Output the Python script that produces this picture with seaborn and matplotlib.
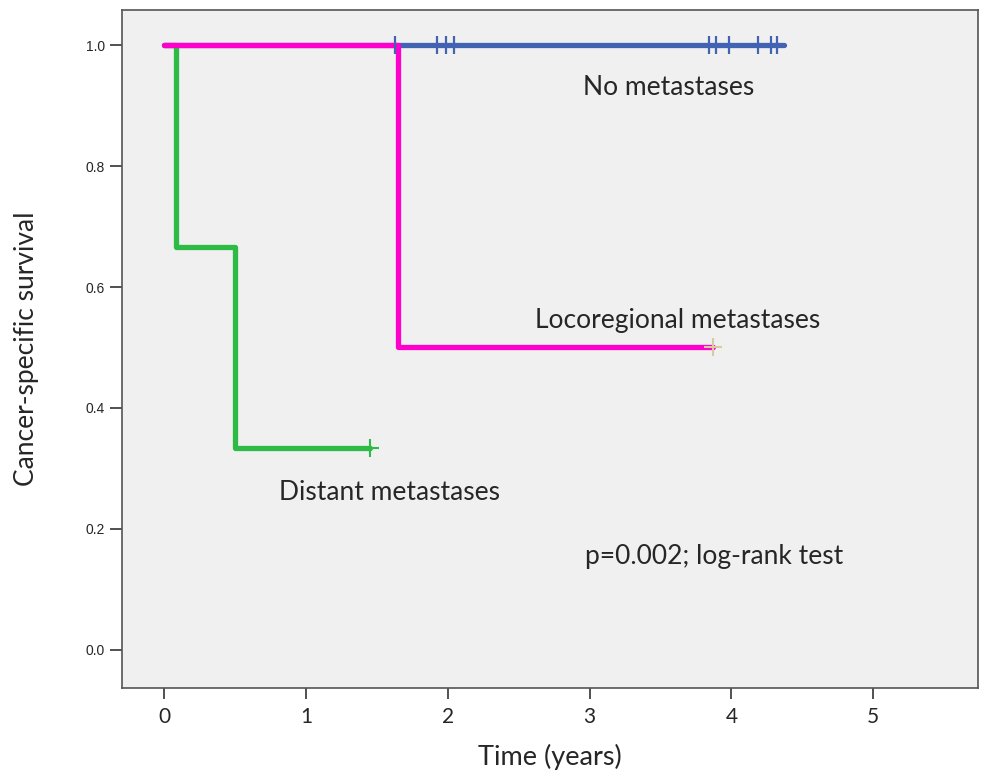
import numpy as np
import pandas as pd
import matplotlib
matplotlib.use("Agg")
import matplotlib.pyplot as plt
import seaborn as sns

# Kaplan-Meier step values
no_meta_time = [0.0, 4.37]
no_meta_surv = [1.0, 1.0]
no_meta_censor = [1.625, 1.92, 1.985, 2.04, 3.84, 3.89, 3.98, 4.19, 4.28, 4.32]

distant_time = [0.0, 0.08, 0.50, 1.45]
distant_surv = [1.0, 0.667, 0.333, 0.333]
distant_censor = [1.45]
distant_censor_surv = [0.333]

loco_time = [0.0, 1.65, 3.87]
loco_surv = [1.0, 0.5, 0.5]
loco_censor = [3.87]
loco_censor_surv = [0.5]

groups = ["No metastases", "Distant metastases", "Locoregional metastases"]
colors = {"No metastases": "#4262B2",
          "Distant metastases": "#2DBB45",
          "Locoregional metastases": "#FF00CC"}

steps = pd.concat([
    pd.DataFrame({"time": no_meta_time, "surv": no_meta_surv, "group": groups[0]}),
    pd.DataFrame({"time": distant_time, "surv": distant_surv, "group": groups[1]}),
    pd.DataFrame({"time": loco_time, "surv": loco_surv, "group": groups[2]}),
])

sns.set_style("white")
plt.rcParams['font.family'] = ['Lato', 'DejaVu Sans']

fig = plt.figure(figsize=(9.83, 7.73), dpi=100)
ax = fig.add_axes([0.124, 0.110, 0.871, 0.877])
ax.set_facecolor("#F0F0F0")

for g in groups:
    sub = steps[steps["group"] == g]
    sns.lineplot(data=sub, x="time", y="surv", color=colors[g], lw=3.8,
                 drawstyle="steps-post", estimator=None, sort=False, ax=ax,
                 legend=False, zorder=3)

# censor marks
sns.scatterplot(x=no_meta_censor, y=[1.0] * len(no_meta_censor), marker="|",
                s=150, linewidth=1.6, color=colors[groups[0]], ax=ax, zorder=4)
sns.scatterplot(x=distant_censor, y=distant_censor_surv, marker="+",
                s=150, linewidth=1.5, color=colors[groups[1]], ax=ax, zorder=4)
sns.scatterplot(x=loco_censor, y=loco_censor_surv, marker="+",
                s=150, linewidth=1.5, color="#D6CC9E", ax=ax, zorder=4)

ax.set_xlim(-0.30, 5.74)
ax.set_ylim(-0.063, 1.058)
ax.set_xticks([0, 1, 2, 3, 4, 5])
ax.set_yticks([0.0, 0.2, 0.4, 0.6, 0.8, 1.0])
ax.set_yticklabels(["0.0", "0.2", "0.4", "0.6", "0.8", "1.0"],
                   family="Liberation Sans", fontsize=10)
ax.tick_params(axis="x", labelsize=15, length=8, width=1.2, color="#333333", pad=6)
ax.tick_params(axis="y", length=9, width=1.2, color="#333333", pad=3)
ax.tick_params(bottom=True, left=True)

for sp in ax.spines.values():
    sp.set_visible(True)
    sp.set_color("#555555")
    sp.set_linewidth(1.2)

ax.set_xlabel("Time (years)", fontsize=19.5, labelpad=12)
ax.set_ylabel("Cancer-specific survival", fontsize=19, labelpad=34)

ax.text(3.56, 0.93, "No metastases", fontsize=19, ha="center", va="center")
ax.text(3.62, 0.544, "Locoregional metastases", fontsize=19, ha="center", va="center")
ax.text(1.59, 0.26, "Distant metastases", fontsize=19, ha="center", va="center")
ax.text(3.88, 0.155, "p=0.002; log-rank test", fontsize=19, ha="center", va="center")

fig.savefig("out.png", dpi=100, facecolor="white")
